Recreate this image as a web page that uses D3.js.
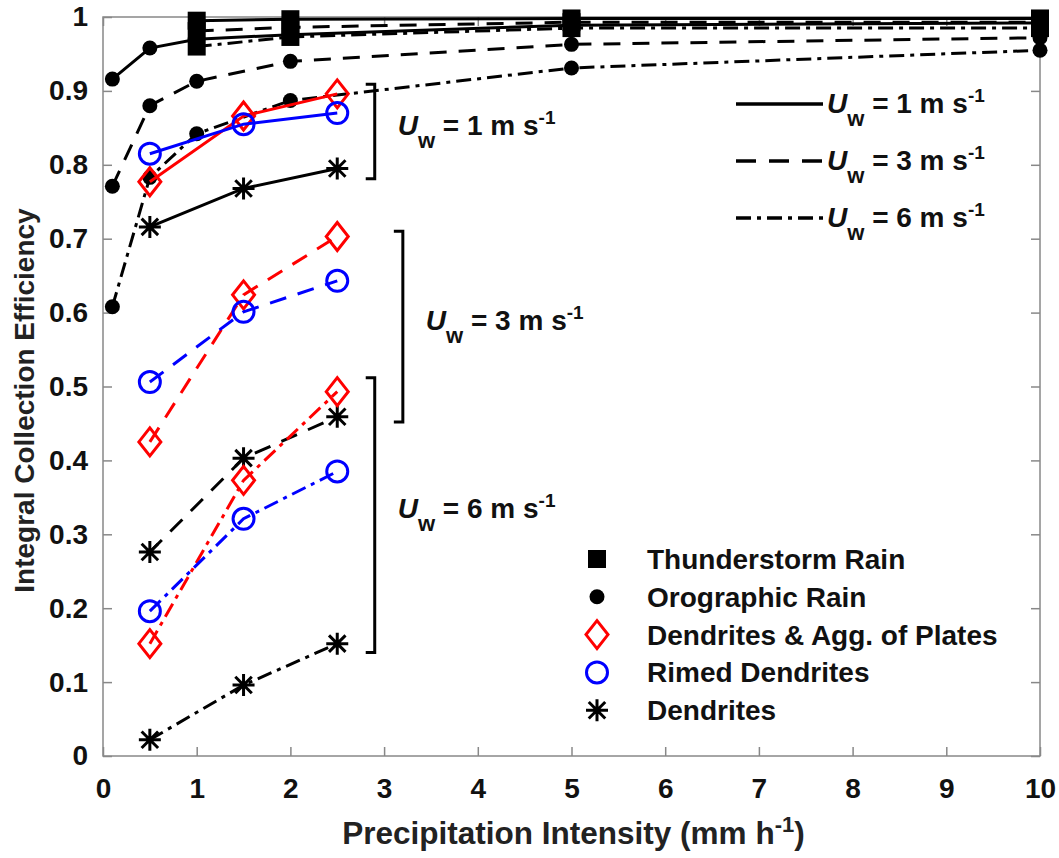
<!DOCTYPE html>
<html>
<head>
<meta charset="utf-8">
<script src="https://cdn.jsdelivr.net/npm/d3@7"></script>
<style>
  body { margin: 0; background: #fff; }
  text { font-family: "Liberation Sans", Arial, sans-serif; font-weight: bold; }
</style>
</head>
<body>
<div id="canvas"></div>
<script>
// ////////// DATA /////////////

// rain: x positions (mm/h)
var thunderX = [1, 2, 5, 10];
var thunderUw1 = [0.995, 0.997, 0.998, 0.998];
var thunderUw3 = [0.981, 0.986, 0.993, 0.993];
var thunderUw6 = [0.960, 0.973, 0.985, 0.985];

var oroX = [0.1, 0.5, 1, 2, 5, 10];
var oroUw1 = [0.916, 0.958, 0.970, 0.976, 0.989, 0.992];
var oroUw3 = [0.771, 0.880, 0.913, 0.940, 0.963, 0.972];
var oroUw6 = [0.608, 0.783, 0.842, 0.887, 0.931, 0.955];

// snow
var snowX = [0.5, 1.5, 2.5];
var dendAggUw1 = [0.777, 0.866, 0.896];
var dendAggUw3 = [0.425, 0.624, 0.703];
var dendAggUw6 = [0.152, 0.373, 0.493];
var rimedUw1 = [0.815, 0.855, 0.870];
var rimedUw3 = [0.506, 0.601, 0.643];
var rimedUw6 = [0.196, 0.321, 0.385];
var dendUw1 = [0.716, 0.768, 0.795];
var dendUw3 = [0.276, 0.403, 0.459];
var dendUw6 = [0.022, 0.096, 0.152];

var xTicks = [0, 1, 2, 3, 4, 5, 6, 7, 8, 9, 10];
var yTicks = [0, 0.1, 0.2, 0.3, 0.4, 0.5, 0.6, 0.7, 0.8, 0.9, 1];

var windLabels = ["1", "3", "6"];
var markerNames = ["Thunderstorm Rain", "Orographic Rain", "Dendrites & Agg. of Plates", "Rimed Dendrites", "Dendrites"];

// brackets: [x, yTop, yBottom] in data units
var brackets = [[2.9, 0.909, 0.781], [3.2, 0.710, 0.452], [2.9, 0.512, 0.140]];


///////// GLOBAL VARS //////////

var W = 1059, H = 858;
var plotL = 103, plotR = 1040, plotT = 17, plotB = 756;

var dashes = { "1": null, "3": "17,12", "6": "15,6,4,6" };

var svg = d3.select("#canvas")
  .append("svg")
  .attr("width", W)
  .attr("height", H)
  .style("background-color", "#fff");

var x = d3.scaleLinear().domain([0, 10]).range([plotL, plotR]);
var y = d3.scaleLinear().domain([0, 1]).range([plotB, plotT]);

// axes (ticks inward, box on)
function styleAxis(g) {
  g.select(".domain").remove();
  g.selectAll(".tick line").attr("stroke", "#888").attr("stroke-width", 1.5);
  g.selectAll(".tick text").attr("fill", "#111").attr("font-size", 28).attr("font-family", null);
}

svg.append("g")
  .attr("transform", `translate(0,${plotB})`)
  .call(d3.axisBottom(x).tickValues(xTicks).tickSizeInner(-9).tickSizeOuter(0).tickPadding(22).tickFormat(d3.format("d")))
  .call(styleAxis);

svg.append("g")
  .attr("transform", `translate(0,${plotT})`)
  .call(d3.axisTop(x).tickValues(xTicks).tickSizeInner(-9).tickSizeOuter(0).tickFormat(""))
  .call(styleAxis);

svg.append("g")
  .attr("transform", `translate(${plotL},0)`)
  .call(d3.axisLeft(y).tickValues(yTicks).tickSizeInner(-9).tickSizeOuter(0).tickPadding(15).tickFormat(d => d === 0 || d === 1 ? d : d.toFixed(1)))
  .call(styleAxis);

svg.append("g")
  .attr("transform", `translate(${plotR},0)`)
  .call(d3.axisRight(y).tickValues(yTicks).tickSizeInner(-9).tickSizeOuter(0).tickFormat(""))
  .call(styleAxis);

svg.append("rect")
  .attr("x", plotL).attr("y", plotT)
  .attr("width", plotR - plotL).attr("height", plotB - plotT)
  .attr("fill", "none").attr("stroke", "#888").attr("stroke-width", 1.5);

// axis titles
svg.append("text")
  .attr("x", (plotL + plotR) / 2 + 2)
  .attr("y", 844)
  .attr("text-anchor", "middle")
  .attr("font-size", 31.5)
  .attr("fill", "#222")
  .text("Precipitation Intensity (mm h")
  .call(t => t.append("tspan").attr("dy", -12).attr("font-size", 22).text("-1"))
  .call(t => t.append("tspan").attr("dy", 12).text(")"));

svg.append("text")
  .attr("transform", `translate(34,${(plotT + plotB) / 2 + 14}) rotate(-90)`)
  .attr("text-anchor", "middle")
  .attr("font-size", 28)
  .attr("fill", "#222")
  .text("Integral Collection Efficiency");

///////// MARKERS //////////

function drawMarker(g, type, cx, cy) {
  if (type === "square") {
    g.append("rect").attr("x", cx - 9).attr("y", cy - 9).attr("width", 18).attr("height", 18).attr("fill", "#000");
  } else if (type === "dot") {
    g.append("circle").attr("cx", cx).attr("cy", cy).attr("r", 7.5).attr("fill", "#000");
  } else if (type === "diamond") {
    g.append("path")
      .attr("d", `M${cx},${cy - 14}L${cx + 11},${cy}L${cx},${cy + 14}L${cx - 11},${cy}Z`)
      .attr("fill", "none").attr("stroke", "#ff0000").attr("stroke-width", 3);
  } else if (type === "ring") {
    g.append("circle").attr("cx", cx).attr("cy", cy).attr("r", 10.5)
      .attr("fill", "none").attr("stroke", "#0000ff").attr("stroke-width", 3);
  } else if (type === "star") {
    var r = 11, r2 = r * 0.75, p = "";
    p += `M${cx - r},${cy}L${cx + r},${cy}M${cx},${cy - r}L${cx},${cy + r}`;
    p += `M${cx - r2},${cy - r2}L${cx + r2},${cy + r2}M${cx - r2},${cy + r2}L${cx + r2},${cy - r2}`;
    g.append("path").attr("d", p).attr("stroke", "#000").attr("stroke-width", 3).attr("fill", "none");
  }
}

var series = [
  { xs: oroX, ys: oroUw1, uw: "1", marker: "dot", color: "#000" },
  { xs: oroX, ys: oroUw3, uw: "3", marker: "dot", color: "#000" },
  { xs: oroX, ys: oroUw6, uw: "6", marker: "dot", color: "#000" },
  { xs: thunderX, ys: thunderUw6, uw: "6", marker: "square", color: "#000" },
  { xs: thunderX, ys: thunderUw3, uw: "3", marker: "square", color: "#000" },
  { xs: thunderX, ys: thunderUw1, uw: "1", marker: "square", color: "#000" },
  { xs: snowX, ys: dendUw1, uw: "1", marker: "star", color: "#000" },
  { xs: snowX, ys: dendUw3, uw: "3", marker: "star", color: "#000" },
  { xs: snowX, ys: dendUw6, uw: "6", marker: "star", color: "#000" },
  { xs: snowX, ys: dendAggUw1, uw: "1", marker: "diamond", color: "#ff0000" },
  { xs: snowX, ys: dendAggUw3, uw: "3", marker: "diamond", color: "#ff0000" },
  { xs: snowX, ys: dendAggUw6, uw: "6", marker: "diamond", color: "#ff0000" },
  { xs: snowX, ys: rimedUw1, uw: "1", marker: "ring", color: "#0000ff" },
  { xs: snowX, ys: rimedUw3, uw: "3", marker: "ring", color: "#0000ff" },
  { xs: snowX, ys: rimedUw6, uw: "6", marker: "ring", color: "#0000ff" }
];

var line = d3.line().x(d => x(d[0])).y(d => y(d[1]));

var plot = svg.append("g");
series.forEach(s => {
  var pts = s.xs.map((v, i) => [v, s.ys[i]]);
  var sg = plot.append("g");
  sg.append("path")
    .attr("d", line(pts))
    .attr("fill", "none")
    .attr("stroke", s.color)
    .attr("stroke-width", 3)
    .attr("stroke-dasharray", dashes[s.uw]);
  pts.forEach(p => drawMarker(sg, s.marker, x(p[0]), y(p[1])));
});

///////// BRACKETS + LABELS //////////

function uwLabel(g, px, py, val) {
  var t = g.append("text").attr("x", px).attr("y", py).attr("font-size", 28).attr("fill", "#111");
  t.append("tspan").attr("font-style", "italic").text("U");
  t.append("tspan").attr("dy", 13).attr("font-size", 22).text("w");
  t.append("tspan").attr("dy", -13).text(" = " + val + " m s");
  t.append("tspan").attr("dy", -11).attr("font-size", 19).text("-1");
}

brackets.forEach((b, i) => {
  var bx = x(b[0]), y1 = y(b[1]), y2 = y(b[2]);
  svg.append("path")
    .attr("d", `M${bx - 9},${y1}L${bx},${y1}L${bx},${y2}L${bx - 9},${y2}`)
    .attr("fill", "none").attr("stroke", "#000").attr("stroke-width", 3);
  uwLabel(svg, bx + 23, (y1 + y2) / 2 + 3, windLabels[i]);
});

// line style legend (top right)
windLabels.forEach((w, i) => {
  var ly = 104 + i * 57;
  svg.append("line")
    .attr("x1", 736).attr("x2", 823).attr("y1", ly).attr("y2", ly)
    .attr("stroke", "#000").attr("stroke-width", 3.5)
    .attr("stroke-dasharray", w === "3" ? "20,13" : dashes[w]);
  uwLabel(svg, 827, ly + 9, w);
});

// marker legend (bottom right)
var markerTypes = ["square", "dot", "diamond", "ring", "star"];
markerNames.forEach((name, i) => {
  var ly = 559 + i * 37.8;
  drawMarker(svg, markerTypes[i], 597, ly);
  svg.append("text")
    .attr("x", 647).attr("y", ly + 10)
    .attr("font-size", 28).attr("fill", "#111")
    .text(name);
});
</script>
</body>
</html>
